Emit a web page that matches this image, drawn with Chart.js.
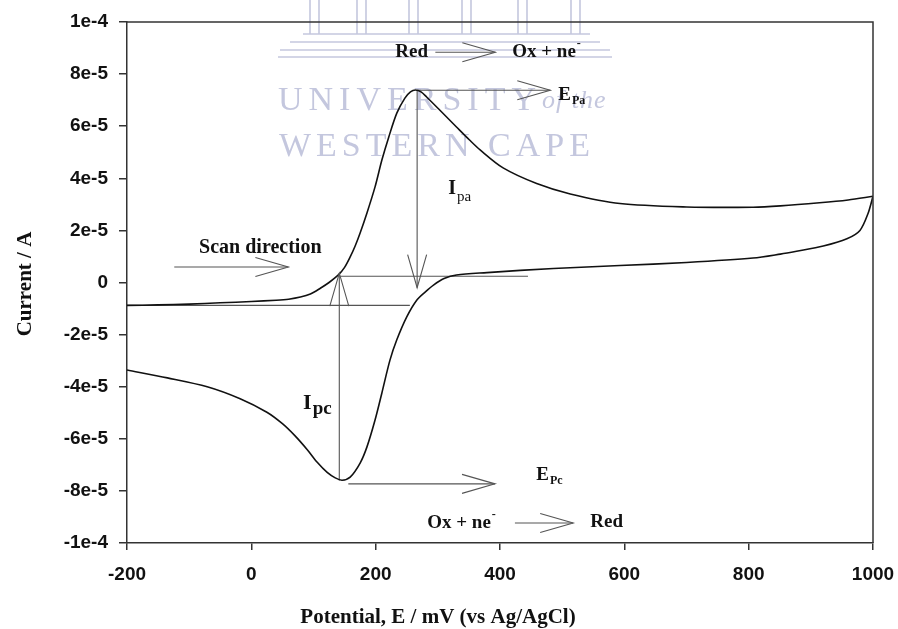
<!DOCTYPE html>
<html><head><meta charset="utf-8">
<script src="https://cdn.jsdelivr.net/npm/chart.js@4.4.1/dist/chart.umd.min.js"></script>
<style>html,body{margin:0;padding:0;background:#fff}#wrap{width:898px;height:629px}</style>
</head><body><div id="wrap"><canvas id="c" width="898" height="629"></canvas></div>
<script>
// ---- Data (potential in mV, current in A) ----
const forwardPotential = [-200,-150,-100,-50,0,40,60,79,95,111,125,140,150,159,167,175,186,199,210,221,234,247,256,264,273,282,303,330,351,368,405,459,513,593,700,807,851,914,960,1000];
const forwardCurrent   = [-8.8e-6,-8.6e-6,-8.3e-6,-7.8e-6,-7.3e-6,-6.8e-6,-6.4e-6,-5.6e-6,-4.4e-6,-2.2e-6,0.0e-6,2.9e-6,5.8e-6,9.8e-6,14.0e-6,19.0e-6,26.7e-6,36.7e-6,47.0e-6,55.8e-6,65.0e-6,70.8e-6,73.2e-6,73.9e-6,73.2e-6,71.2e-6,66.2e-6,59.7e-6,54.7e-6,50.9e-6,44.0e-6,38.0e-6,34.0e-6,30.3e-6,29.0e-6,28.9e-6,29.4e-6,30.6e-6,31.7e-6,33.1e-6];
const reversePotential = [1000,992,979,958,920,877,851,807,700,593,486,379,330,310,293,280,266,250,234,223,210,199,186,175,159,146,135,122,106,90,70,50,25,-18,-71,-135,-200];
const reverseCurrent   = [33.1e-6,26.5e-6,20.0e-6,16.8e-6,14.0e-6,12.0e-6,10.9e-6,9.4e-6,7.7e-6,6.5e-6,5.4e-6,3.8e-6,2.9e-6,1.5e-6,-1.0e-6,-3.6e-6,-6.8e-6,-13.2e-6,-22.0e-6,-29.8e-6,-42.4e-6,-52.8e-6,-63.1e-6,-69.3e-6,-74.7e-6,-75.9e-6,-75.0e-6,-72.9e-6,-69.0e-6,-64.2e-6,-58.8e-6,-54.2e-6,-49.8e-6,-44.6e-6,-40.0e-6,-36.6e-6,-33.6e-6];

const xTickValues = [-200,0,200,400,600,800,1000];
const xTickLabels = ['-200','0','200','400','600','800','1000'];
const yTickValues = [-1e-4,-8e-5,-6e-5,-4e-5,-2e-5,0,2e-5,4e-5,6e-5,8e-5,1e-4];
const yTickLabels = ['-1e-4','-8e-5','-6e-5','-4e-5','-2e-5','0','2e-5','4e-5','6e-5','8e-5','1e-4'];

// annotation segments: [x1, y1, x2, y2] (arrowhead at second point)
const arrowSegments = [
  [-124, 5.95e-6, 59.6, 5.95e-6],      // scan direction
  [296, 88.4e-6, 392.5, 88.4e-6],      // Red -> Ox
  [266.7, 73.8e-6, 480.9, 73.8e-6],    // E_Pa
  [266.7, 73.8e-6, 266.7, -2.0e-6],    // I_pa
  [141.5, -76.0e-6, 141.5, 3.6e-6],    // I_pc
  [156, -77.3e-6, 392, -77.3e-6],      // E_Pc
  [424, -92.3e-6, 517.7, -92.3e-6]     // Ox -> Red
];
const plainSegments = [
  [143, 2.4e-6, 445, 2.4e-6],
  [-200, -8.8e-6, 255, -8.8e-6]
];

// text annotations: [x, y, main, sub, sup, style]
const textNotes = [
  [-84, 13.2e-6, 'Scan direction', '', '', 's'],
  [231.6, 88.4e-6, 'Red', '', '', 'n'],
  [419.7, 88.4e-6, 'Ox + ne', '', '-', 'n'],
  [493.7, 72.0e-6, 'E', 'Pa', '', 'e'],
  [316.6, 35.9e-6, 'I', 'pa', '', 'ia'],
  [83.3, -46.3e-6, 'I', 'pc', '', 'ic'],
  [458.3, -73.9e-6, 'E', 'Pc', '', 'e'],
  [282.9, -92.3e-6, 'Ox + ne', '', '-', 'n'],
  [545.3, -91.9e-6, 'Red', '', '', 'n']
];

const xTitle = 'Potential, E / mV (vs Ag/AgCl)';
const yTitle = 'Current / A';

// ---- build datasets ----
const toPts = (xs, ys) => xs.map((x, i) => ({x, y: ys[i]}));
const curveStyle = {borderColor:'#111', borderWidth:1.6, pointRadius:0, showLine:true, tension:0.3, fill:false};
const annStyle = {borderColor:'#555', borderWidth:1.1, pointRadius:0, showLine:true, tension:0, fill:false};
const datasets = [
  Object.assign({label:'forward', data: toPts(forwardPotential, forwardCurrent)}, curveStyle),
  Object.assign({label:'reverse', data: toPts(reversePotential, reverseCurrent)}, curveStyle)
];
arrowSegments.concat(plainSegments).forEach((s, i) => {
  datasets.push(Object.assign({label:'ann'+i, data:[{x:s[0], y:s[1]}, {x:s[2], y:s[3]}]}, annStyle));
});

const SERIF = '"Liberation Serif", "Times New Roman", serif';
const SANS = '"Liberation Sans", Arial, sans-serif';
const WM = 'rgb(196,199,222)';

const decor = {
  id: 'decor',
  beforeDatasetsDraw(chart) {
    const ctx = chart.ctx;
    ctx.save();
    ctx.strokeStyle = WM; ctx.fillStyle = WM; ctx.lineWidth = 1.6;
    const cols = [310, 357, 409, 462, 518, 571];
    cols.forEach(cx => {
      [cx, cx + 9].forEach(lx => { ctx.beginPath(); ctx.moveTo(lx, 0); ctx.lineTo(lx, 34); ctx.stroke(); });
    });
    [[303,590,34],[290,600,42],[280,610,50],[278,612,57]].forEach(r => {
      ctx.beginPath(); ctx.moveTo(r[0], r[2]); ctx.lineTo(r[1], r[2]); ctx.stroke();
    });
    ctx.textBaseline = 'alphabetic'; ctx.textAlign = 'left';
    ctx.font = '34px ' + SERIF;
    ctx.letterSpacing = '6px';
    ctx.fillText('UNIVERSITY', 278, 110);
    ctx.letterSpacing = '5px';
    ctx.fillText('WESTERN CAPE', 279, 156);
    ctx.letterSpacing = '1px';
    ctx.font = 'italic 26px ' + SERIF;
    ctx.fillText('of the', 542, 108);
    ctx.letterSpacing = '0px';
    ctx.restore();
  },
  afterDatasetsDraw(chart) {
    const ctx = chart.ctx, xs = chart.scales.x, ys = chart.scales.y, a = chart.chartArea;
    ctx.save();
    ctx.strokeStyle = '#333'; ctx.lineWidth = 1.5;
    ctx.beginPath(); ctx.moveTo(a.left, a.top); ctx.lineTo(a.right, a.top); ctx.lineTo(a.right, a.bottom); ctx.stroke();
    ctx.strokeStyle = '#555'; ctx.lineWidth = 1.1;
    arrowSegments.forEach(s => {
      const x1 = xs.getPixelForValue(s[0]), y1 = ys.getPixelForValue(s[1]);
      const x2 = xs.getPixelForValue(s[2]), y2 = ys.getPixelForValue(s[3]);
      const len = Math.hypot(x2 - x1, y2 - y1), ux = (x2 - x1) / len, uy = (y2 - y1) / len;
      const L = 33, W = 9.5;
      ctx.beginPath();
      ctx.moveTo(x2 - ux * L - uy * W, y2 - uy * L + ux * W);
      ctx.lineTo(x2, y2);
      ctx.lineTo(x2 - ux * L + uy * W, y2 - uy * L - ux * W);
      ctx.stroke();
    });
    ctx.fillStyle = '#111'; ctx.textAlign = 'left'; ctx.textBaseline = 'middle';
    textNotes.forEach(t => {
      let x = xs.getPixelForValue(t[0]); const y = ys.getPixelForValue(t[1]);
      let mainFont = 'bold 19px ' + SERIF, subFont = 'bold 12px ' + SERIF, subDy = 6;
      if (t[5] === 's') { mainFont = 'bold 20px ' + SERIF; }
      if (t[5] === 'ia') { mainFont = 'bold 20px ' + SERIF; subFont = '15px ' + SERIF; subDy = 8; }
      if (t[5] === 'ic') { mainFont = 'bold 22px ' + SERIF; subFont = 'bold 19px ' + SERIF; subDy = 6; }
      ctx.font = mainFont; ctx.fillText(t[2], x, y); x += ctx.measureText(t[2]).width;
      if (t[3]) { ctx.font = subFont; ctx.fillText(t[3], x + 1, y + subDy); }
      if (t[4]) { ctx.font = 'bold 12px ' + SERIF; ctx.fillText(t[4], x + 1, y - 8); }
    });
    ctx.restore();
  },
  afterDraw(chart) {
    const ctx = chart.ctx;
    ctx.save();
    ctx.fillStyle = '#111';
    ctx.font = 'bold 21px ' + SERIF;
    ctx.textAlign = 'center'; ctx.textBaseline = 'alphabetic';
    ctx.fillText(xTitle, 438, 623);
    ctx.translate(31, 284); ctx.rotate(-Math.PI / 2);
    ctx.fillText(yTitle, 0, 0);
    ctx.restore();
  }
};

new Chart(document.getElementById('c'), {
  type: 'scatter',
  data: { datasets },
  options: {
    responsive: false, animation: false, devicePixelRatio: 1,
    layout: { padding: { left: 0, right: 25, top: 22, bottom: 0 } },
    plugins: { legend: { display: false }, tooltip: { enabled: false } },
    scales: {
      x: {
        type: 'linear', min: -200, max: 1000,
        afterFit(s) { s.height = 86; s.paddingLeft = 0; s.paddingRight = 0; },
        afterBuildTicks(s) { s.ticks = xTickValues.map(v => ({ value: v })); },
        ticks: { callback: (v, i) => xTickLabels[i], color: '#111', font: { family: SANS, size: 19, weight: 'bold' }, padding: 13, maxRotation: 0, autoSkip: false },
        grid: { drawOnChartArea: false, drawTicks: true, tickLength: 7, color: '#333', lineWidth: 1.5 },
        border: { color: '#333', width: 1.5 }
      },
      y: {
        type: 'linear', min: -1e-4, max: 1e-4,
        afterFit(s) { s.width = 127; s.paddingTop = 0; s.paddingBottom = 0; },
        afterBuildTicks(s) { s.ticks = yTickValues.map(v => ({ value: v })); },
        ticks: { callback: (v, i) => yTickLabels[i], color: '#111', font: { family: SANS, size: 19, weight: 'bold' }, padding: 11, autoSkip: false },
        grid: { drawOnChartArea: false, drawTicks: true, tickLength: 8, color: '#333', lineWidth: 1.5 },
        border: { color: '#333', width: 1.5 }
      }
    }
  },
  plugins: [decor]
});
</script></body></html>
